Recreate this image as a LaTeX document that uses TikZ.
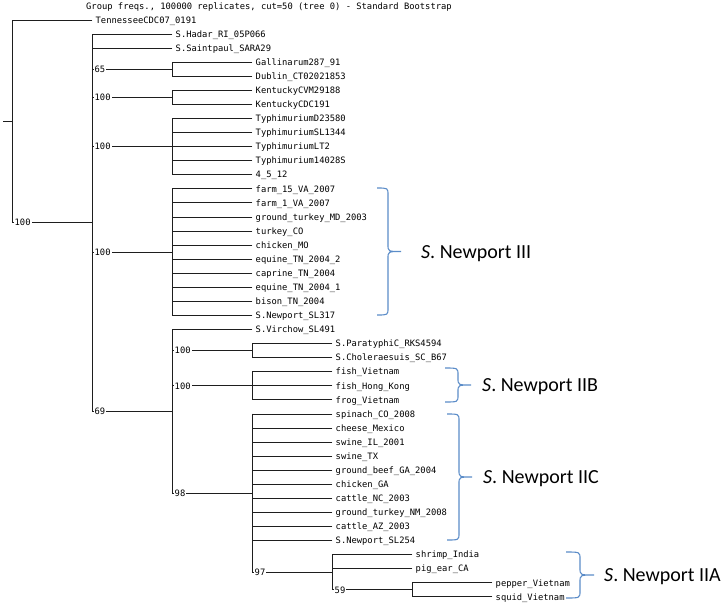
\documentclass[tikz,border=0pt]{standalone}
\usepackage{fontspec}
\setmainfont{Carlito}
\newfontfamily\treefont{DejaVu Sans Mono}
\usetikzlibrary{calc}
\definecolor{bracecol}{RGB}{91,140,200}
\definecolor{treecol}{RGB}{30,30,30}
\newcommand\mybrace[5]{% xe, xv, xt, ytop, ybottom
  \pgfmathsetmacro\bym{(#4+#5)/2}%
  \draw[brc] (#1,#4) .. controls (#2,#4) .. (#2,{#4+7}) -- (#2,{\bym-7})
     .. controls (#2,\bym) .. (#3,\bym) .. controls (#2,\bym) .. (#2,{\bym+7})
     -- (#2,{#5-7}) .. controls (#2,#5) .. (#1,#5);}
\begin{document}
\begin{tikzpicture}[x=1pt,y=-1pt,
  edge/.style={draw=treecol, line width=0.9pt, line cap=rect},
  leaf/.style={anchor=west, inner xsep=3.5pt, inner ysep=0pt, text height=6.4pt, text depth=0pt,
    font=\treefont\fontsize{8.8}{10}\selectfont},
  boot/.style={anchor=west, fill=white, inner xsep=1pt, inner ysep=0.5pt, text height=6.4pt, text depth=0pt,
    font=\treefont\fontsize{8.8}{10}\selectfont},
  grp/.style={anchor=west, inner sep=0pt, text height=12.9pt, text depth=0pt, font=\fontsize{20}{24}\selectfont},
  brc/.style={draw=bracecol, line width=1.1pt}]
\useasboundingbox (0,0) rectangle (725,605);

% header
\node[leaf, inner xsep=0pt] (hdr) at (86,6) {Group freqs., 100000 replicates, cut=50 (tree 0) - Standard Bootstrap};

% leaves
\foreach \e/\t [count=\i] in {
92/TennesseeCDC07\_0191,
172/S.Hadar\_RI\_05P066,
172/S.Saintpaul\_SARA29,
252/Gallinarum287\_91,
252/Dublin\_CT02021853,
252/KentuckyCVM29188,
252/KentuckyCDC191,
252/TyphimuriumD23580,
252/TyphimuriumSL1344,
252/TyphimuriumLT2,
252/Typhimurium14028S,
252/4\_5\_12,
252/farm\_15\_VA\_2007,
252/farm\_1\_VA\_2007,
252/ground\_turkey\_MD\_2003,
252/turkey\_CO,
252/chicken\_MO,
252/equine\_TN\_2004\_2,
252/caprine\_TN\_2004,
252/equine\_TN\_2004\_1,
252/bison\_TN\_2004,
252/S.Newport\_SL317,
252/S.Virchow\_SL491,
332/S.ParatyphiC\_RKS4594,
332/S.Choleraesuis\_SC\_B67,
332/fish\_Vietnam,
332/fish\_Hong\_Kong,
332/frog\_Vietnam,
332/spinach\_CO\_2008,
332/cheese\_Mexico,
332/swine\_IL\_2001,
332/swine\_TX,
332/ground\_beef\_GA\_2004,
332/chicken\_GA,
332/cattle\_NC\_2003,
332/ground\_turkey\_NM\_2008,
332/cattle\_AZ\_2003,
332/S.Newport\_SL254,
412/shrimp\_India,
412/pig\_ear\_CA,
492/pepper\_Vietnam,
492/squid\_Vietnam}
  \node[leaf] (L\i) at (\e,{20+14.07*(\i-1)}) {\t};

% inner nodes
\coordinate (r0)  at (3,121.3);
\coordinate (r)   at (12,121.3);
\coordinate (nA)  at (92,222.7);
\coordinate (n65) at (172,69.25);
\coordinate (nK)  at (172,97.39);
\coordinate (nT)  at (172,146.63);
\coordinate (n3)  at (172,252.16);
\coordinate (n69) at (172,411.3);
\coordinate (nP)  at (252,350.65);
\coordinate (nF)  at (252,385.82);
\coordinate (n98) at (252,493.1);
\coordinate (n97) at (332,572.25);
\coordinate (n59) at (412,589.84);

% vertical bars
\draw[edge] (r0) -- (r);
\draw[edge] (r |- L1) -- (r |- nA);
\draw[edge] (nA |- L2) -- (nA |- n69);
\draw[edge] (n65 |- L4) -- (n65 |- L5);
\draw[edge] (nK |- L6) -- (nK |- L7);
\draw[edge] (nT |- L8) -- (nT |- L12);
\draw[edge] (n3 |- L13) -- (n3 |- L22);
\draw[edge] (n69 |- L23) -- (n69 |- n98);
\draw[edge] (nP |- L24) -- (nP |- L25);
\draw[edge] (nF |- L26) -- (nF |- L28);
\draw[edge] (n98 |- L29) -- (n98 |- n97);
\draw[edge] (n97 |- L39) -- (n97 |- n59);
\draw[edge] (n59 |- L41) -- (n59 |- L42);

% horizontal edges
\foreach \p/\c in {r/L1, r/nA, nA/L2, nA/L3, nA/n65, nA/nK, nA/nT, nA/n3, nA/n69,
  n65/L4, n65/L5, nK/L6, nK/L7, nT/L8, nT/L9, nT/L10, nT/L11, nT/L12,
  n3/L13, n3/L14, n3/L15, n3/L16, n3/L17, n3/L18, n3/L19, n3/L20, n3/L21, n3/L22,
  n69/L23, n69/nP, n69/nF, n69/n98, nP/L24, nP/L25, nF/L26, nF/L27, nF/L28,
  n98/L29, n98/L30, n98/L31, n98/L32, n98/L33, n98/L34, n98/L35, n98/L36, n98/L37, n98/L38, n98/n97,
  n97/L39, n97/L40, n97/n59, n59/L41, n59/L42}
  \draw[edge] (\p |- \c) -- (\c);

% bootstrap values
\node[boot] (bA)  at ($(r |- nA)+(1.5,0)$) {100};
\node[boot] (b65) at ($(nA |- n65)+(1.5,0)$) {65};
\node[boot] (bK)  at ($(nA |- nK)+(1.5,0)$) {100};
\node[boot] (bT)  at ($(nA |- nT)+(1.5,0)$) {100};
\node[boot] (b3)  at ($(nA |- n3)+(1.5,0)$) {100};
\node[boot] (b69) at ($(nA |- n69)+(1.5,0)$) {69};
\node[boot] (bP)  at ($(n69 |- nP)+(1.5,0)$) {100};
\node[boot] (bF)  at ($(n69 |- nF)+(1.5,0)$) {100};
\node[boot] (b98) at ($(n69 |- n98)+(1.5,0)$) {98};
\node[boot] (b97) at ($(n98 |- n97)+(1.5,0)$) {97};
\node[boot] (b59) at ($(n97 |- n59)+(1.5,0)$) {59};

% braces and group labels
\mybrace{377}{388}{401}{188}{315}
\node[grp] (gIII) at (421,252) {\textit{S}. Newport III};
\mybrace{445}{458}{471}{368}{402}
\node[grp] (gIIB) at (482,385) {\textit{S}. Newport IIB};
\mybrace{447}{459}{472}{414}{540}
\node[grp] (gIIC) at (483,477) {\textit{S}. Newport IIC};
\mybrace{566}{580}{594}{552}{598}
\node[grp] (gIIA) at (604,575) {\textit{S}. Newport IIA};
\end{tikzpicture}
\end{document}
